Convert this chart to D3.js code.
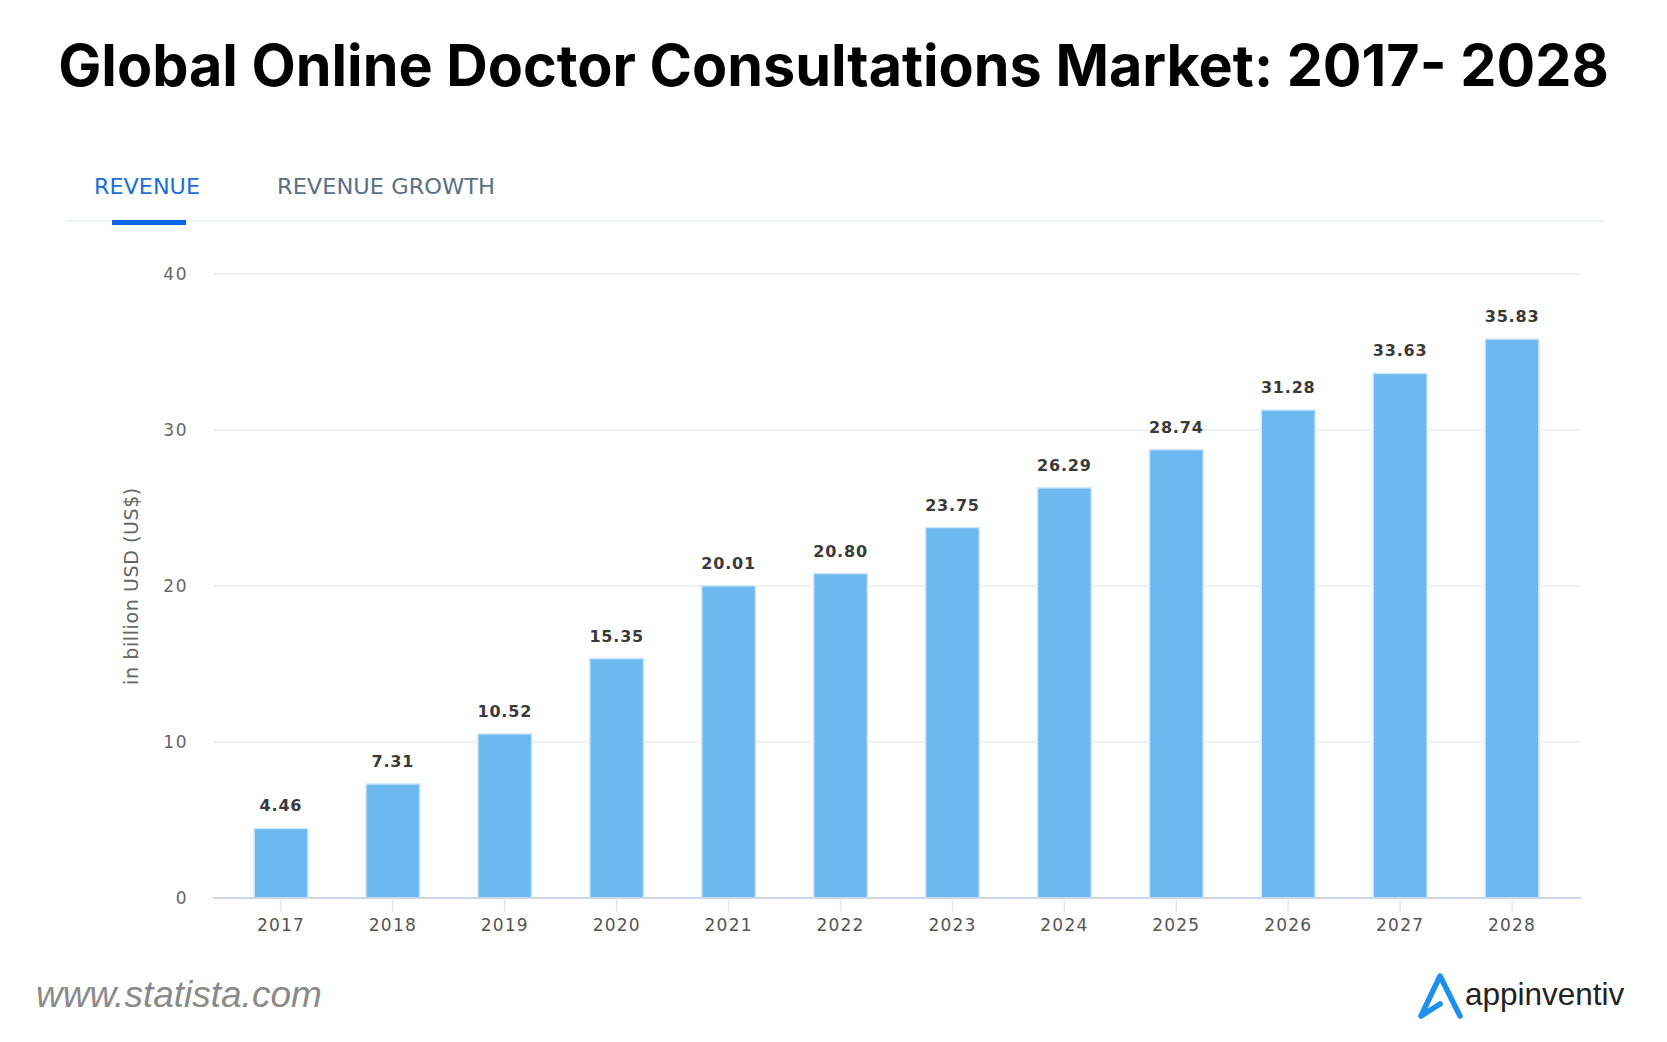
<!DOCTYPE html>
<html>
<head>
<meta charset="utf-8">
<script src="https://cdn.jsdelivr.net/npm/d3@7"></script>
<style>
  body { margin: 0; background: #fff; }
  svg { display: block; }
</style>
</head>
<body>
<svg id="chart" width="1667" height="1042"></svg>
<script>
// data
const years = ["2017","2018","2019","2020","2021","2022","2023","2024","2025","2026","2027","2028"]
const revenue = [4.46, 7.31, 10.52, 15.35, 20.01, 20.80, 23.75, 26.29, 28.74, 31.28, 33.63, 35.83]
const yTicks = [0, 10, 20, 30, 40]
const tabs = ["REVENUE", "REVENUE GROWTH"]

const svg = d3.select("#chart")
const W = 1667, H = 1042

svg.append("rect").attr("width", W).attr("height", H).attr("fill", "#fff")

// title, squeezed to the width used in the picture
const title = svg.append("text")
  .attr("x", W / 2).attr("y", 86)
  .attr("text-anchor", "middle")
  .attr("font-family", "Inter, 'Open Sans', sans-serif")
  .attr("font-weight", 700)
  .attr("font-size", 56)
  .attr("fill", "#000")
  .text("Global Online Doctor Consultations Market: 2017- 2028")
let tw = title.node().getComputedTextLength()
title.attr("font-size", 56 * 1551 / tw)

// tabs
const tabX = [94, 277]
svg.selectAll(".tab").data(tabs).join("text").attr("class", "tab")
  .attr("x", (d, i) => tabX[i]).attr("y", 194)
  .attr("font-family", "'DejaVu Sans', sans-serif")
  .attr("font-size", 22)
  .attr("fill", (d, i) => i === 0 ? "#1a6fd8" : "#5b6f86")
  .text(d => d)
  .each(function(d, i) {
    const w = [106, 218][i]
    d3.select(this).attr("textLength", w).attr("lengthAdjust", "spacingAndGlyphs")
  })
svg.append("line").attr("x1", 66).attr("x2", 1605).attr("y1", 221).attr("y2", 221)
  .attr("stroke", "#eef2f5").attr("stroke-width", 2)
svg.append("rect").attr("x", 112).attr("y", 220).attr("width", 74).attr("height", 5)
  .attr("fill", "#0b66e4")

// scales
const x = d3.scaleBand().domain(years).range([225, 1568]).paddingInner(0.52).paddingOuter(0.26)
const y = d3.scaleLinear().domain([0, 40]).range([898, 274])

// grid
svg.append("g").selectAll("line").data(yTicks.filter(d => d > 0)).join("line")
  .attr("x1", 213).attr("x2", 1581)
  .attr("y1", d => y(d)).attr("y2", d => y(d))
  .attr("stroke", "#ebebeb").attr("stroke-width", 1.5)

// y axis labels
const yAxis = svg.append("g").attr("transform", "translate(188,0)")
  .call(d3.axisLeft(y).tickValues(yTicks).tickSize(0).tickPadding(0))
yAxis.select(".domain").remove()
yAxis.selectAll("text")
  .attr("font-family", "'DejaVu Sans', sans-serif")
  .attr("font-size", 17).attr("letter-spacing", 1.5)
  .attr("fill", "#666")

svg.append("text")
  .attr("transform", "translate(138,586) rotate(-90)")
  .attr("text-anchor", "middle")
  .attr("font-family", "'DejaVu Sans', sans-serif")
  .attr("font-size", 19).attr("letter-spacing", 0.6)
  .attr("fill", "#666")
  .text("in billion USD (US$)")

// bars
svg.append("g").selectAll("rect").data(revenue).join("rect")
  .attr("x", (d, i) => x(years[i]))
  .attr("y", d => y(d))
  .attr("width", x.bandwidth())
  .attr("height", d => y(0) - y(d))
  .attr("fill", "#6cb9ef")
  .attr("stroke", "#cfe6f8").attr("stroke-width", 1.5)

// value labels
svg.append("g").selectAll("text").data(revenue).join("text")
  .attr("x", (d, i) => x(years[i]) + x.bandwidth() / 2)
  .attr("y", d => y(d) - 17)
  .attr("text-anchor", "middle")
  .attr("font-family", "'DejaVu Sans', sans-serif")
  .attr("font-size", 16).attr("font-weight", 700).attr("letter-spacing", 0.8)
  .attr("fill", "#3a3a3a")
  .text(d => d.toFixed(2))

// x axis
const xAxis = svg.append("g").attr("transform", "translate(0,898)")
  .call(d3.axisBottom(x).tickSize(14).tickPadding(7))
xAxis.select(".domain").attr("d", "M213,0H1581").attr("stroke", "#ccd6eb").attr("stroke-width", 2)
xAxis.selectAll(".tick line").attr("stroke", "#e0e8f3").attr("stroke-width", 1.5)
xAxis.selectAll("text")
  .attr("font-family", "'DejaVu Sans', sans-serif")
  .attr("font-size", 17).attr("letter-spacing", 1.2)
  .attr("fill", "#555")

// footer
svg.append("text").attr("x", 36).attr("y", 1007)
  .attr("font-family", "'Liberation Sans', Arial, sans-serif")
  .attr("font-style", "italic")
  .attr("font-size", 37)
  .attr("fill", "#8a8a8a")
  .text("www.statista.com")

// appinventiv logo
svg.append("path")
  .attr("d", "M1421,1016 L1440,976 L1460,1016 M1421,1016 L1440,1004")
  .attr("fill", "none").attr("stroke", "#1e90f0").attr("stroke-width", 5.5)
  .attr("stroke-linecap", "round").attr("stroke-linejoin", "round")
svg.append("text").attr("x", 1465).attr("y", 1005)
  .attr("font-family", "'Liberation Sans', Arial, sans-serif")
  .attr("font-size", 31.5)
  .attr("fill", "#222")
  .text("appinventiv")
</script>
</body>
</html>
